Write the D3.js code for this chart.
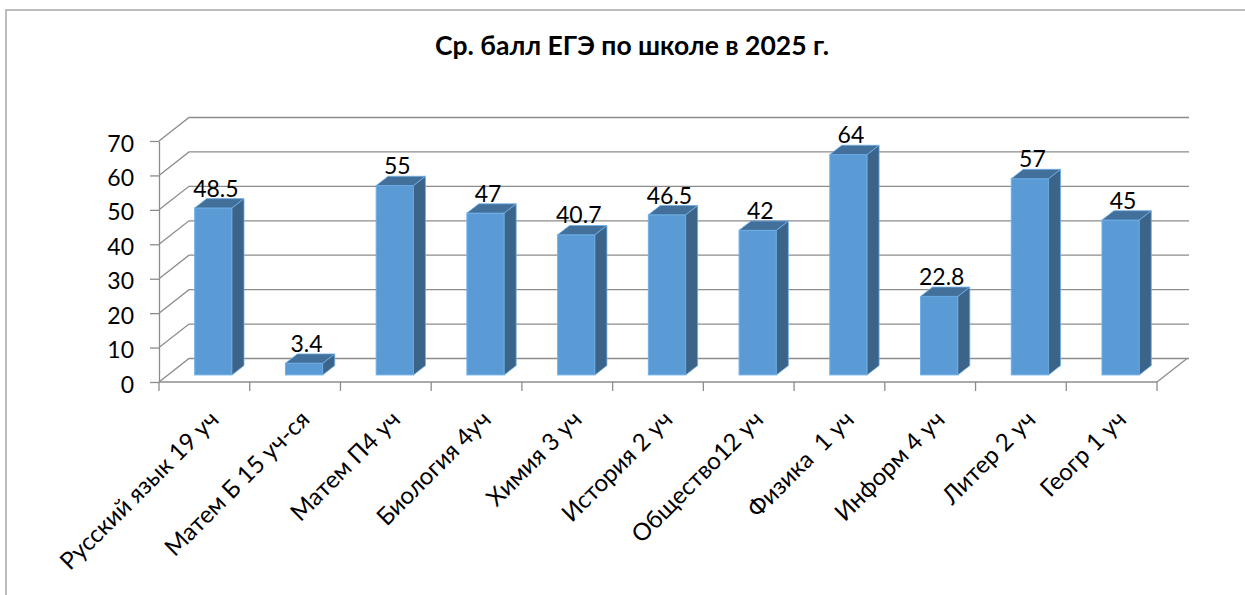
<!DOCTYPE html>
<html>
<head>
<meta charset="utf-8">
<script src="https://cdn.jsdelivr.net/npm/d3@7"></script>
<style>
  html, body { margin: 0; padding: 0; background: #fff; overflow: hidden; }
  text { font-family: Lato, "Open Sans", sans-serif; fill: #000; }
</style>
</head>
<body>
<script>
const categories = ["Русский язык 19 уч", "Матем Б 15 уч-ся", "Матем П4 уч", "Биология 4уч", "Химия 3 уч",
  "История 2 уч", "Общество12 уч", "Физика  1 уч", "Информ 4 уч", "Литер 2 уч", "Геогр 1 уч"];
const values = [48.5, 3.4, 55, 47, 40.7, 46.5, 42, 64, 22.8, 57, 45];
const valueLabels = ["48.5", "3.4", "55", "47", "40.7", "46.5", "42", "64", "22.8", "57", "45"];
const yTicks = [0, 10, 20, 30, 40, 50, 60, 70];
const title = "Ср. балл ЕГЭ по школе в 2025 г.";

const width = 1245, height = 595;
const floorX = 30, floorY = 23.5;   // depth of the 3d box
const barDX = 12, barDY = 9.3;      // depth of one bar

let svg = d3.select("body").append("svg")
  .attr("width", width)
  .attr("height", height)
  .style("display", "block");

// frame, only left and top are inside the picture
svg.append("path")
  .attr("d", "M6 595V10H1245")
  .attr("fill", "none")
  .attr("stroke", "#a8a8a8")
  .attr("stroke-width", 1.5);

svg.append("text")
  .attr("x", 632).attr("y", 55)
  .attr("text-anchor", "middle")
  .attr("font-size", 26.5)
  .attr("font-weight", 700)
  .text(title);

let x = d3.scaleBand().domain(categories).range([159, 1157]);
let y = d3.scaleLinear().domain([0, 70]).range([382, 141]);

const grey = "#8c8c8c";

// back wall gridlines and side wall diagonals
let grid = svg.append("g").attr("stroke", grey).attr("stroke-width", 1.3).attr("fill", "none");
yTicks.forEach(t => {
  grid.append("path")
    .attr("d", `M${x.range()[0]} ${y(t)}l${floorX} ${-floorY}H${x.range()[1] + floorX + 2}`);
});
// floor right edge
grid.append("path").attr("d", `M${x.range()[1]} ${y(0)}l${floorX} ${-floorY}`);

let yAxis = d3.axisLeft(y).tickValues(yTicks).tickSize(9).tickPadding(16).tickSizeOuter(0);
let yG = svg.append("g").attr("transform", `translate(${x.range()[0]},0)`).call(yAxis);
yG.selectAll("path, line").attr("stroke", grey).attr("stroke-width", 1.3);
yG.selectAll("text").attr("font-size", 23).attr("fill", "#000").attr("dy", "0.44em");

let xG = svg.append("g").attr("transform", `translate(0,${y(0)})`);
xG.append("line").attr("x1", x.range()[0]).attr("x2", x.range()[1]).attr("stroke", grey).attr("stroke-width", 1.3);
xG.selectAll("line.tick")
  .data(categories.map(c => x(c)).concat(x.range()[1]))
  .enter().append("line")
  .attr("class", "tick")
  .attr("x1", d => d).attr("x2", d => d)
  .attr("y1", 0).attr("y2", 9)
  .attr("stroke", grey).attr("stroke-width", 1.3);

xG.selectAll("text.cat")
  .data(categories)
  .enter().append("text")
  .attr("class", "cat")
  .attr("text-anchor", "end")
  .attr("font-size", 24)
  .style("white-space", "pre")
  .attr("transform", d => `translate(${x(d) + x.bandwidth() / 2 + 16},${39}) rotate(-45)`)
  .text(d => d);

// bars: same layout inside each band, placed in the middle of the box depth
const barW = 37.3;
const barShiftX = (floorX - barDX) / 2, barShiftY = (floorY - barDY) / 2;
const base = y(0) - barShiftY;
const h = d => y(0) - y(d);
const left = (d, i) => x(categories[i]) + (x.bandwidth() - barW) / 2 + barShiftX;

let bars = svg.append("g").selectAll("g").data(values).enter().append("g");

bars.append("rect")
  .attr("x", left)
  .attr("y", d => base - h(d))
  .attr("width", barW)
  .attr("height", h)
  .attr("fill", "#5b9bd5")
  .attr("stroke", "#6fb0e8")
  .attr("stroke-width", 1);

bars.append("path")
  .attr("d", (d, i) => {
    let x0 = left(d, i) + barW;
    return `M${x0} ${base}l${barDX} ${-barDY}V${base - h(d) - barDY}l${-barDX} ${barDY}Z`;
  })
  .attr("fill", "#3c6489")
  .attr("stroke", "#6fb0e8")
  .attr("stroke-width", 0.8);

bars.append("path")
  .attr("d", (d, i) => {
    let x0 = left(d, i), top = base - h(d);
    return `M${x0} ${top}l${barDX} ${-barDY}h${barW}l${-barDX} ${barDY}Z`;
  })
  .attr("fill", "#43709b")
  .attr("stroke", "#6fb0e8")
  .attr("stroke-width", 0.8);

bars.append("text")
  .attr("x", (d, i) => left(d, i) + barW / 2 + 2.5)
  .attr("y", d => base - h(d) - barDY - 2)
  .attr("text-anchor", "middle")
  .attr("font-size", 23)
  .text((d, i) => valueLabels[i]);
</script>
</body>
</html>
